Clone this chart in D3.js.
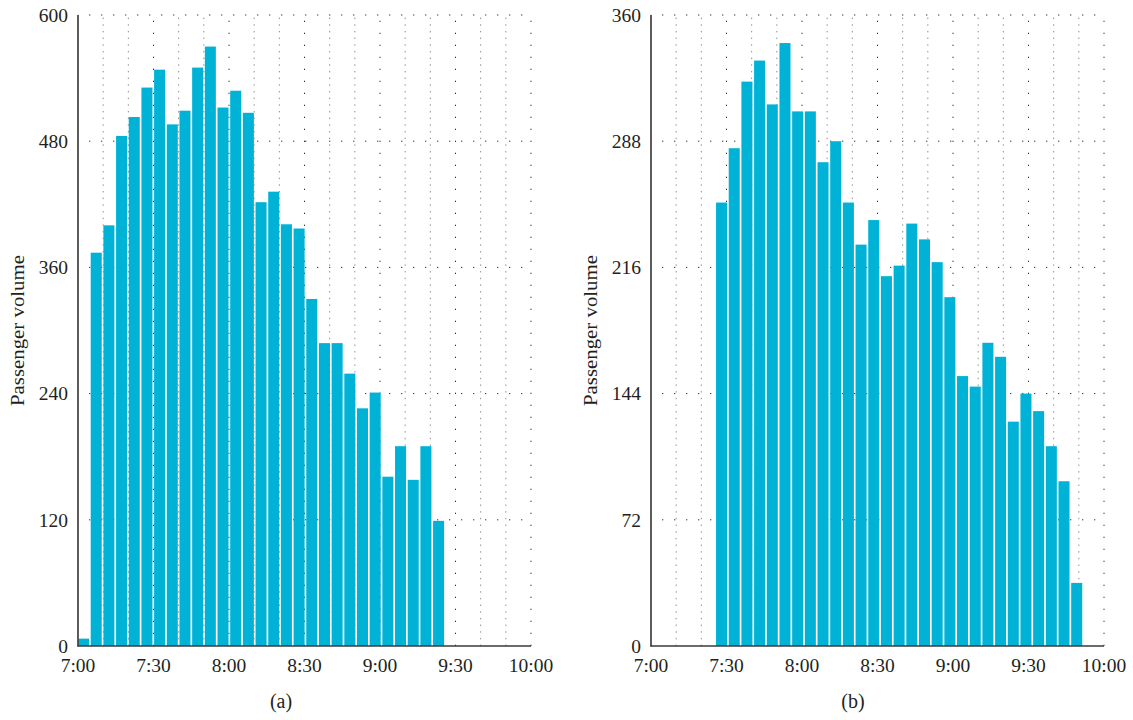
<!DOCTYPE html>
<html>
<head>
<meta charset="utf-8">
<script src="https://cdn.jsdelivr.net/npm/d3@7"></script>
<style>
  html, body { margin: 0; padding: 0; background: #fff; }
  svg { display: block; }
  text { font-family: "Liberation Serif", "DejaVu Serif", serif; fill: #231f20; }
</style>
</head>
<body>
<svg id="chart" width="1133" height="720"></svg>
<script>
// ---------- data ----------
const xTickLabels = ["7:00", "7:30", "8:00", "8:30", "9:00", "9:30", "10:00"];
const xMinorLabels = ["7:10", "7:20", "7:40", "7:50", "8:10", "8:20", "8:40", "8:50", "9:10", "9:20", "9:40", "9:50"];

const yTicksA = [0, 120, 240, 360, 480, 600];
const yTicksB = [0, 72, 144, 216, 288, 360];

const slotsA = ["7:00", "7:05", "7:10", "7:15", "7:20", "7:25", "7:30", "7:35", "7:40", "7:45",
                "7:50", "7:55", "8:00", "8:05", "8:10", "8:15", "8:20", "8:25", "8:30", "8:35",
                "8:40", "8:45", "8:50", "8:55", "9:00", "9:05", "9:10", "9:15", "9:20"];
const valuesA = [7, 374, 400, 485, 503, 531, 548, 496, 509, 550,
                 570, 512, 528, 507, 422, 432, 401, 397, 330, 288,
                 288, 259, 226, 241, 161, 190, 158, 190, 119];

const slotsB = ["7:25", "7:30", "7:35", "7:40", "7:45", "7:50", "7:55", "8:00", "8:05", "8:10",
                "8:15", "8:20", "8:25", "8:30", "8:35", "8:40", "8:45", "8:50", "8:55", "9:00",
                "9:05", "9:10", "9:15", "9:20", "9:25", "9:30", "9:35", "9:40", "9:45"];
const valuesB = [253, 284, 322, 334, 309, 344, 305, 305, 276, 288,
                 253, 229, 243, 211, 217, 241, 232, 219, 199, 154,
                 148, 173, 165, 128, 144, 134, 114, 94, 36];

const yLabel = "Passenger volume";
const BAR_COLOR = "#00b3d6";

// ---------- helpers ----------
function parseT(s) {
  const [h, m] = s.split(":").map(Number);
  return new Date(2020, 0, 1, h, m);
}

const svg = d3.select("#chart");

function panel(opts) {
  const { left, right, top, bottom, yMax, yTicks, slots, values,
          bandStart, bandEnd, caption, captionX } = opts;

  const x = d3.scaleTime()
    .domain([parseT("7:00"), parseT("10:00")])
    .range([left, right]);
  const y = d3.scaleLinear().domain([0, yMax]).range([bottom, top]);

  const g = svg.append("g");

  // minor vertical grid (every 10 min)
  g.append("g").selectAll("line")
    .data(xMinorLabels)
    .join("line")
    .attr("x1", d => x(parseT(d))).attr("x2", d => x(parseT(d)))
    .attr("y1", bottom).attr("y2", top)
    .attr("stroke", "#8a8a8a").attr("stroke-width", 1)
    .attr("stroke-dasharray", "1.4,5.27");

  // major vertical grid (every 30 min)
  g.append("g").selectAll("line")
    .data(xTickLabels.slice(1))
    .join("line")
    .attr("x1", d => x(parseT(d))).attr("x2", d => x(parseT(d)))
    .attr("y1", bottom).attr("y2", top)
    .attr("stroke", "#333").attr("stroke-width", 1)
    .attr("stroke-dasharray", "1.3,10.7");

  // horizontal grid
  g.append("g").selectAll("line")
    .data(yTicks.slice(1))
    .join("line")
    .attr("x1", left).attr("x2", right)
    .attr("y1", d => y(d)).attr("y2", d => y(d))
    .attr("stroke", "#333").attr("stroke-width", 1)
    .attr("stroke-dasharray", "1.3,10.7")
    .attr("stroke-dashoffset", -11);

  // bars
  const band = d3.scaleBand()
    .domain(slots)
    .range([x(parseT(bandStart[0])) + bandStart[1], x(parseT(bandEnd[0])) + bandEnd[1]])
    .paddingInner(0.13)
    .paddingOuter(0.065);

  g.append("g").selectAll("rect")
    .data(slots.map((s, i) => ({ s, v: values[i] })))
    .join("rect")
    .attr("x", d => band(d.s))
    .attr("width", band.bandwidth())
    .attr("y", d => y(d.v))
    .attr("height", d => y(0) - y(d.v))
    .attr("fill", BAR_COLOR);

  // axes lines
  g.append("line")
    .attr("x1", left).attr("x2", left).attr("y1", top).attr("y2", bottom + 0.5)
    .attr("stroke", "#4a4a4a").attr("stroke-width", 1.8);
  g.append("line")
    .attr("x1", left - 0.5).attr("x2", right).attr("y1", bottom).attr("y2", bottom)
    .attr("stroke", "#3a3a3a").attr("stroke-width", 1.6);

  // y tick labels
  g.append("g").selectAll("text")
    .data(yTicks)
    .join("text")
    .attr("x", left - 10)
    .attr("y", d => y(d))
    .attr("dy", "0.35em")
    .attr("text-anchor", "end")
    .attr("font-size", 19.5)
    .text(d => d);

  // x tick labels
  g.append("g").selectAll("text")
    .data(xTickLabels)
    .join("text")
    .attr("x", d => x(parseT(d)))
    .attr("y", bottom + 26)
    .attr("text-anchor", "middle")
    .attr("font-size", 19.5)
    .text(d => d);

  // y axis title
  const cy = (top + bottom) / 2;
  g.append("text")
    .attr("transform", `translate(${left - 54},${cy}) rotate(-90)`)
    .attr("text-anchor", "middle")
    .attr("font-size", 18.5)
    .attr("textLength", 151)
    .attr("lengthAdjust", "spacingAndGlyphs")
    .text(yLabel);

  // caption
  g.append("text")
    .attr("x", captionX)
    .attr("y", 708)
    .attr("text-anchor", "middle")
    .attr("font-size", 20)
    .text(caption);
}

panel({
  left: 78, right: 531, top: 15, bottom: 646,
  yMax: 600, yTicks: yTicksA, slots: slotsA, values: valuesA,
  bandStart: ["7:00", -0.8], bandEnd: ["9:25", 2.0],
  caption: "(a)", captionX: 281
});

panel({
  left: 651, right: 1104, top: 15, bottom: 646,
  yMax: 360, yTicks: yTicksB, slots: slotsB, values: valuesB,
  bandStart: ["7:25", 1.3], bandEnd: ["9:50", 4.2],
  caption: "(b)", captionX: 853
});
</script>
</body>
</html>
